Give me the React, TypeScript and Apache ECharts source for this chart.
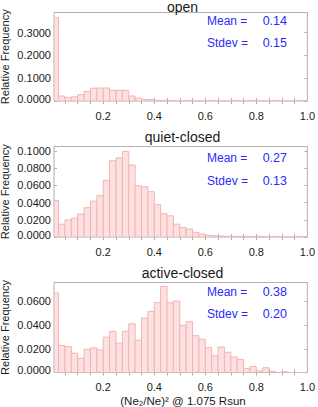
import React, { useEffect, useRef } from "react";
import * as echarts from "echarts";

// ---- data ----
const panelTitles = ["open", "quiet-closed", "active-closed"];
const binStart = 0;
const binWidth = 0.025;

const openFreq = [
  0.365, 0.022, 0.016, 0.018, 0.028, 0.042, 0.056, 0.057, 0.057, 0.047,
  0.047, 0.047, 0.022, 0.013, 0.007, 0.006, 0.003, 0.002, 0.0015, 0.0012,
  0.001, 0.001, 0.001, 0.0008, 0.0008, 0.0008, 0.0008, 0.0006, 0.0006, 0.0006,
  0.0006, 0.0005, 0.0005, 0.0005, 0.0005, 0.0004, 0.0003, 0, 0, 0,
];
const quietFreq = [
  0.0425, 0.0148, 0.0197, 0.0218, 0.0266, 0.034, 0.0416, 0.048, 0.0658, 0.0885,
  0.0918, 0.0993, 0.0835, 0.0595, 0.0582, 0.0525, 0.0375, 0.027, 0.0246, 0.0148,
  0.011, 0.0092, 0.0054, 0.0035, 0.002, 0.0015, 0.0012, 0.0008, 0.0008, 0.0006,
  0.0006, 0.0005, 0.0008, 0.0004, 0.0003, 0.0002, 0.0001, 0.0001, 0, 0,
];
const activeFreq = [
  0.067, 0.0228, 0.0218, 0.0163, 0.012, 0.0196, 0.0207, 0.019, 0.0298, 0.0347,
  0.0247, 0.0347, 0.041, 0.0272, 0.0458, 0.0515, 0.0588, 0.0725, 0.0587, 0.0602,
  0.0398, 0.0428, 0.031, 0.028, 0.021, 0.014, 0.0215, 0.017, 0.013, 0.011,
  0.0035, 0.005, 0.0012, 0.004, 0.001, 0, 0.0006, 0, 0, 0,
];
const panelFreqs = [openFreq, quietFreq, activeFreq];
const means = ["0.14", "0.27", "0.38"];
const stdevs = ["0.15", "0.13", "0.20"];
const xLabelValues = [0.2, 0.4, 0.6, 0.8, 1.0];
const xTickValues = [
  0.05, 0.1, 0.15, 0.2, 0.25, 0.3, 0.35, 0.4, 0.45, 0.5,
  0.55, 0.6, 0.65, 0.7, 0.75, 0.8, 0.85, 0.9, 0.95,
];
const yMaxes = [0.388, 0.105, 0.0758];
const ySteps = [0.1, 0.02, 0.02];
const yAxisName = "Relative Frequency";
const xAxisTitle = "(Ne\u2082/Ne)\u00B2 @ 1.075 Rsun";

// ---- layout ----
const X_MIN = 0.007;
const X_MAX = 1.0;
const GRID_LEFT = 54;
const GRID_WIDTH = 257;
const gridTops = [12.5, 146.5, 282.5];
const gridHeights = [88.5, 90.5, 90];
const titleYs = [6.5, 137.3, 272.7];
const meanYs = [20.7, 158.3, 292.3];
const stdevYs = [42.7, 180.7, 314];
const FONT = "'Liberation Sans', Arial, Helvetica, sans-serif";
const AXIS_COLOR = "#b0b0b0";
const TEXT_COLOR = "#1a1a1a";
const BLUE = "#2a2aff";
const BAR_FILL = "#fde1e1";
const BAR_EDGE = "#f2b4b4";

export default function App() {
  const ref = useRef<HTMLDivElement>(null);

  useEffect(() => {
    document.body.style.margin = "0";
    if (!ref.current) return;
    const chart = echarts.init(ref.current, null, { renderer: "svg" });

    const grids: any[] = [];
    const xAxes: any[] = [];
    const yAxes: any[] = [];
    const series: any[] = [];
    const graphics: any[] = [];

    panelFreqs.forEach((freqs, i) => {
      grids.push({
        left: GRID_LEFT,
        width: GRID_WIDTH,
        top: gridTops[i],
        height: gridHeights[i],
        show: true,
        borderColor: AXIS_COLOR,
        borderWidth: 1,
        backgroundColor: "transparent",
      });
      ["bottom", "top"].forEach((pos) => {
        xAxes.push({
          type: "value",
          gridIndex: i,
          position: pos,
          min: X_MIN,
          max: X_MAX,
          axisLine: { show: false },
          splitLine: { show: false },
          axisTick: {
            show: true,
            inside: true,
            length: 3,
            customValues: xTickValues,
            lineStyle: { color: AXIS_COLOR, width: 1 },
          },
          axisLabel: {
            show: pos === "bottom",
            customValues: xLabelValues,
            formatter: (v: number) => v.toFixed(1),
            margin: 9,
            fontSize: 11,
            fontFamily: FONT,
            color: TEXT_COLOR,
          },
        });
      });
      ["left", "right"].forEach((pos) => {
        yAxes.push({
          type: "value",
          gridIndex: i,
          position: pos,
          min: 0,
          max: yMaxes[i],
          interval: ySteps[i],
          axisLine: { show: false },
          splitLine: { show: false },
          axisTick: {
            show: true,
            inside: true,
            length: 3,
            lineStyle: { color: AXIS_COLOR, width: 1 },
          },
          axisLabel: {
            show: pos === "left",
            showMaxLabel: false,
            formatter: (v: number) => {
              const k = v / ySteps[i];
              if (Math.abs(k - Math.round(k)) > 1e-6) return "";
              return v === 0 ? "{z|0.0000}" : v.toFixed(4);
            },
            rich: {
              z: {
                fontSize: 11,
                fontFamily: FONT,
                color: TEXT_COLOR,
                padding: [0, 0, 5, 0],
              },
            },
            margin: 3,
            fontSize: 11,
            fontFamily: FONT,
            color: TEXT_COLOR,
          },
        });
      });

      const data = freqs.map((f, k) => [
        binStart + k * binWidth,
        binStart + (k + 1) * binWidth,
        f,
      ]);
      series.push({
        type: "custom",
        xAxisIndex: 2 * i,
        yAxisIndex: 2 * i,
        clip: true,
        encode: { x: [0, 1], y: 2 },
        data,
        renderItem: (params: any, api: any) => {
          const x0 = Math.max(api.value(0), X_MIN);
          const x1 = Math.min(api.value(1), X_MAX);
          const y = api.value(2);
          if (x1 <= x0) return null;
          const p0 = api.coord([x0, y]);
          const p1 = api.coord([x1, 0]);
          return {
            type: "rect",
            shape: {
              x: p0[0],
              y: p0[1],
              width: p1[0] - p0[0],
              height: p1[1] - p0[1],
            },
            style: { fill: BAR_FILL, stroke: BAR_EDGE, lineWidth: 1 },
          };
        },
      });

      const cx = GRID_LEFT + GRID_WIDTH / 2;
      graphics.push({
        type: "text",
        x: cx,
        y: titleYs[i],
        style: {
          text: panelTitles[i],
          font: `14px ${FONT}`,
          fill: TEXT_COLOR,
          textAlign: "center",
          textVerticalAlign: "middle",
        },
      });
      graphics.push({
        type: "text",
        x: 207,
        y: meanYs[i],
        style: {
          text: "Mean =",
          font: `12px ${FONT}`,
          fill: BLUE,
          textAlign: "left",
          textVerticalAlign: "middle",
        },
      });
      graphics.push({
        type: "text",
        x: 287,
        y: meanYs[i],
        style: {
          text: means[i],
          font: `12.5px ${FONT}`,
          fill: BLUE,
          textAlign: "right",
          textVerticalAlign: "middle",
        },
      });
      graphics.push({
        type: "text",
        x: 207,
        y: stdevYs[i],
        style: {
          text: "Stdev =",
          font: `12px ${FONT}`,
          fill: BLUE,
          textAlign: "left",
          textVerticalAlign: "middle",
        },
      });
      graphics.push({
        type: "text",
        x: 287,
        y: stdevYs[i],
        style: {
          text: stdevs[i],
          font: `12.5px ${FONT}`,
          fill: BLUE,
          textAlign: "right",
          textVerticalAlign: "middle",
        },
      });
      graphics.push({
        type: "text",
        x: 5,
        y: gridTops[i] + gridHeights[i] / 2,
        rotation: Math.PI / 2,
        style: {
          text: yAxisName,
          font: `11px ${FONT}`,
          fill: TEXT_COLOR,
          textAlign: "center",
          textVerticalAlign: "middle",
        },
      });
    });

    graphics.push({
      type: "text",
      x: 183,
      y: 400.5,
      style: {
        text: xAxisTitle,
        font: `11.5px ${FONT}`,
        fill: TEXT_COLOR,
        textAlign: "center",
        textVerticalAlign: "middle",
      },
    });

    chart.setOption({
      animation: false,
      backgroundColor: "#ffffff",
      grid: grids,
      xAxis: xAxes,
      yAxis: yAxes,
      series,
      graphic: graphics,
    });

    return () => chart.dispose();
  }, []);

  return <div ref={ref} style={{ width: 318, height: 407 }} />;
}
